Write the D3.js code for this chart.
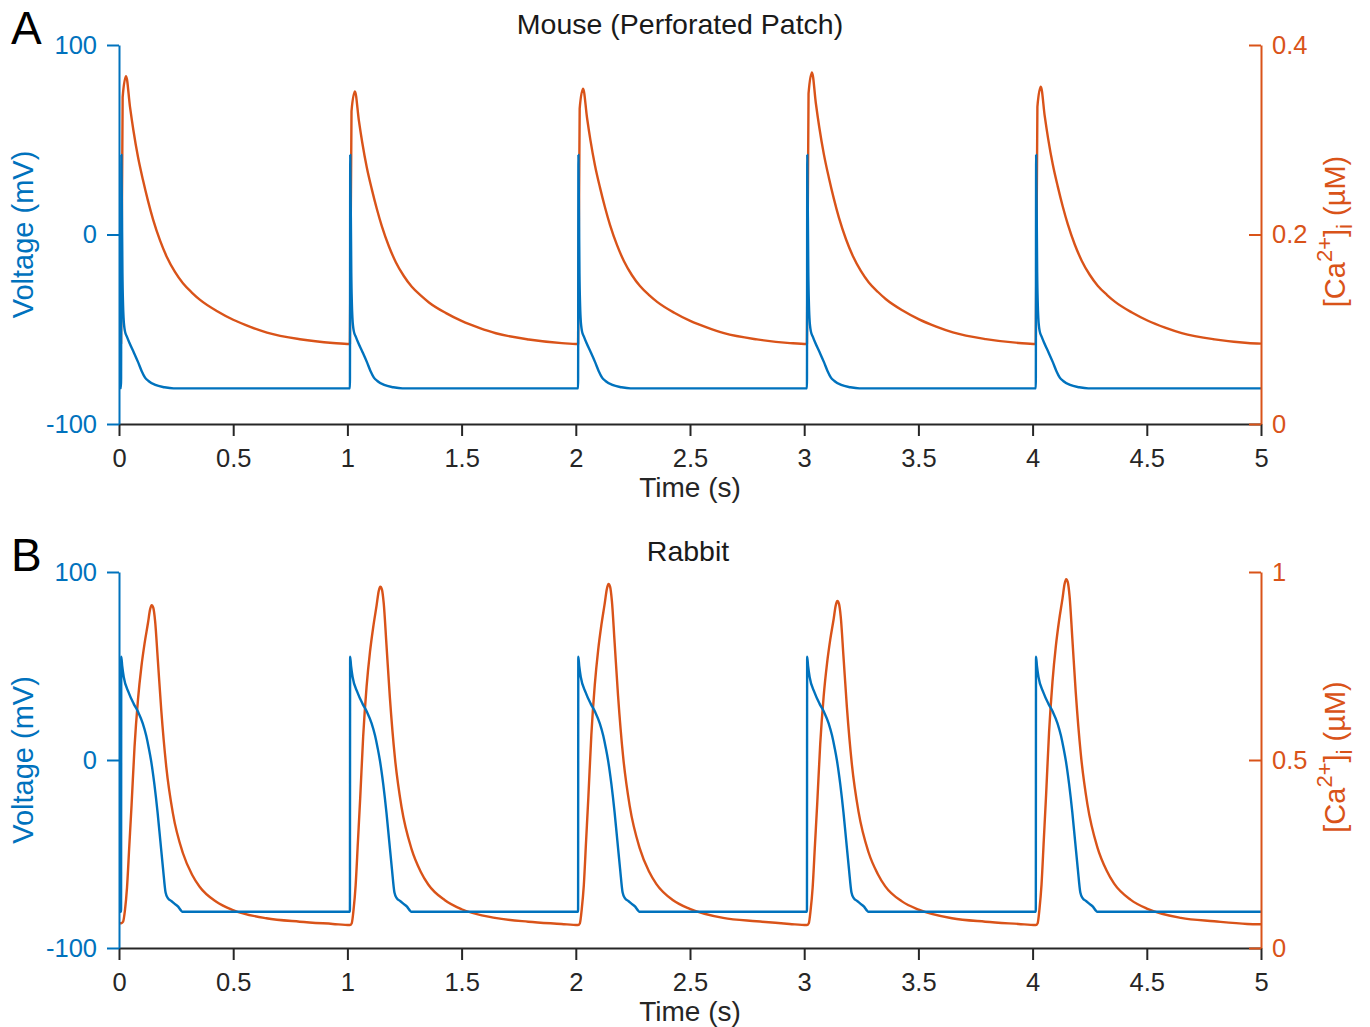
<!DOCTYPE html>
<html>
<head>
<meta charset="utf-8">
<script src="https://cdn.jsdelivr.net/npm/d3@7"></script>
<style>
body { margin: 0; background: #fff; }
svg text { font-family: "Liberation Sans", Arial, Helvetica, sans-serif; }
</style>
</head>
<body>
<div id="chart"></div>
<script>
// ---- data ----
const timeTicks = [0, 0.5, 1, 1.5, 2, 2.5, 3, 3.5, 4, 4.5, 5];
const timeTickLabels = ['0', '0.5', '1', '1.5', '2', '2.5', '3', '3.5', '4', '4.5', '5'];
const voltTicks = [-100, 0, 100];
const voltTickLabels = ['-100', '0', '100'];
const mouseCaTicks = [0, 0.2, 0.4];
const mouseCaTickLabels = ['0', '0.2', '0.4'];
const rabbitCaTicks = [0, 0.5, 1];
const rabbitCaTickLabels = ['0', '0.5', '1'];

// [time (s), voltage (mV)]
const mouseVoltage = [
  [0,-81],[0.009,-81],[0.0105,42],[0.015,-20],[0.020,-44],[0.026,-51],[0.035,-54],[0.045,-57],[0.064,-62],[0.084,-67.5],[0.099,-72],[0.114,-75.5],[0.129,-77.3],[0.159,-79.4],[0.199,-80.6],[0.239,-81.2],
  [1.011,-81.2],[1.0125,42],[1.017,-20],[1.022,-44],[1.028,-51],[1.037,-54],[1.047,-57],[1.066,-62],[1.086,-67.5],[1.101,-72],[1.116,-75.5],[1.131,-77.3],[1.161,-79.4],[1.201,-80.6],[1.241,-81.2],
  [2.010,-81.2],[2.0115,42],[2.016,-20],[2.021,-44],[2.027,-51],[2.036,-54],[2.046,-57],[2.065,-62],[2.085,-67.5],[2.100,-72],[2.115,-75.5],[2.130,-77.3],[2.160,-79.4],[2.200,-80.6],[2.240,-81.2],
  [3.012,-81.2],[3.0135,42],[3.018,-20],[3.023,-44],[3.029,-51],[3.038,-54],[3.048,-57],[3.067,-62],[3.087,-67.5],[3.102,-72],[3.117,-75.5],[3.132,-77.3],[3.162,-79.4],[3.202,-80.6],[3.242,-81.2],
  [4.014,-81.2],[4.0155,42],[4.020,-20],[4.025,-44],[4.031,-51],[4.040,-54],[4.050,-57],[4.069,-62],[4.089,-67.5],[4.104,-72],[4.119,-75.5],[4.134,-77.3],[4.164,-79.4],[4.204,-80.6],[4.244,-81.2],
  [5,-81.2]
];

// [time (s), [Ca2+]i (uM)]
const mouseCalcium = [
  [0,0.085],[0.009,0.085],[0.016,0.345],[0.031,0.367],[0.048,0.335],[0.063,0.310],[0.083,0.282],[0.105,0.2575],[0.127,0.2355],[0.149,0.2160],[0.180,0.1935],[0.210,0.1760],[0.245,0.1605],[0.280,0.1485],[0.320,0.1385],[0.355,0.1310],[0.430,0.1190],[0.500,0.1100],[0.575,0.1025],[0.648,0.0965],[0.792,0.0895],[0.937,0.0855],
  [1.011,0.0844],[1.018,0.3301],[1.033,0.351],[1.050,0.3207],[1.065,0.2971],[1.085,0.2707],[1.107,0.2476],[1.129,0.2269],[1.151,0.2085],[1.182,0.1873],[1.212,0.1708],[1.247,0.1562],[1.282,0.1448],[1.322,0.1354],[1.357,0.1283],[1.432,0.1170],[1.502,0.1085],[1.577,0.1015],[1.650,0.0958],[1.794,0.0892],[1.939,0.0854],
  [2.010,0.0844],[2.017,0.3330],[2.032,0.354],[2.049,0.3235],[2.064,0.2996],[2.084,0.2729],[2.106,0.2495],[2.128,0.2285],[2.150,0.2099],[2.181,0.1885],[2.211,0.1718],[2.246,0.1570],[2.281,0.1456],[2.321,0.1360],[2.356,0.1289],[2.431,0.1174],[2.501,0.1088],[2.576,0.1017],[2.649,0.0959],[2.793,0.0893],[2.938,0.0854],
  [3.012,0.0844],[3.019,0.3486],[3.034,0.371],[3.051,0.3385],[3.066,0.3132],[3.086,0.2848],[3.108,0.2599],[3.130,0.2376],[3.152,0.2178],[3.183,0.1950],[3.213,0.1773],[3.248,0.1616],[3.283,0.1494],[3.323,0.1393],[3.358,0.1317],[3.433,0.1195],[3.503,0.1104],[3.578,0.1028],[3.651,0.0967],[3.795,0.0896],[3.940,0.0855],
  [4.014,0.0844],[4.021,0.3348],[4.036,0.356],[4.053,0.3252],[4.068,0.3012],[4.088,0.2743],[4.110,0.2508],[4.132,0.2296],[4.154,0.2109],[4.185,0.1892],[4.215,0.1724],[4.250,0.1575],[4.285,0.1460],[4.325,0.1364],[4.360,0.1292],[4.435,0.1177],[4.505,0.1090],[4.580,0.1018],[4.653,0.0960],[4.797,0.0893],[4.942,0.0855],
  [5,0.0848]
];

const rabbitVoltage = [
  [0,-80.7],[0.009,-80.7],[0.010,55],[0.014,50],[0.021,44],[0.042,36],[0.064,30],[0.084,25.5],[0.104,19.5],[0.119,13],[0.131,6],[0.140,0],[0.155,-13],[0.169,-28],[0.181,-43],[0.193,-58],[0.204,-70.5],[0.214,-73.5],[0.229,-75],[0.244,-76.5],[0.259,-78],[0.271,-80],[0.277,-80.7],
  [1.011,-80.7],[1.012,55],[1.016,50],[1.023,44],[1.044,36],[1.066,30],[1.086,25.5],[1.106,19.5],[1.121,13],[1.133,6],[1.142,0],[1.157,-13],[1.171,-28],[1.183,-43],[1.195,-58],[1.206,-70.5],[1.216,-73.5],[1.231,-75],[1.246,-76.5],[1.261,-78],[1.273,-80],[1.279,-80.7],
  [2.010,-80.7],[2.011,55],[2.015,50],[2.022,44],[2.043,36],[2.065,30],[2.085,25.5],[2.105,19.5],[2.120,13],[2.132,6],[2.141,0],[2.156,-13],[2.170,-28],[2.182,-43],[2.194,-58],[2.205,-70.5],[2.215,-73.5],[2.230,-75],[2.245,-76.5],[2.260,-78],[2.272,-80],[2.278,-80.7],
  [3.012,-80.7],[3.013,55],[3.017,50],[3.024,44],[3.045,36],[3.067,30],[3.087,25.5],[3.107,19.5],[3.122,13],[3.134,6],[3.143,0],[3.158,-13],[3.172,-28],[3.184,-43],[3.196,-58],[3.207,-70.5],[3.217,-73.5],[3.232,-75],[3.247,-76.5],[3.262,-78],[3.274,-80],[3.280,-80.7],
  [4.014,-80.7],[4.015,55],[4.019,50],[4.026,44],[4.047,36],[4.069,30],[4.089,25.5],[4.109,19.5],[4.124,13],[4.136,6],[4.145,0],[4.160,-13],[4.174,-28],[4.186,-43],[4.198,-58],[4.209,-70.5],[4.219,-73.5],[4.234,-75],[4.249,-76.5],[4.264,-78],[4.276,-80],[4.282,-80.7],
  [5,-80.7]
];

const rabbitCalcium = [
  [0,0.066],[0.010,0.066],[0.018,0.070],[0.026,0.100],[0.035,0.160],[0.045,0.270],[0.055,0.380],[0.068,0.535],[0.083,0.660],[0.098,0.748],[0.112,0.810],[0.127,0.865],[0.136,0.900],[0.143,0.912],[0.150,0.905],[0.158,0.870],[0.170,0.766],[0.185,0.633],[0.207,0.482],[0.236,0.358],[0.280,0.252],[0.320,0.195],[0.353,0.163],[0.426,0.123],[0.499,0.101],[0.645,0.079],[0.791,0.070],[0.936,0.064],
  [1.011,0.061],[1.019,0.066],[1.027,0.102],[1.036,0.166],[1.046,0.282],[1.056,0.398],[1.069,0.562],[1.084,0.695],[1.099,0.788],[1.113,0.853],[1.128,0.912],[1.137,0.949],[1.144,0.961],[1.151,0.954],[1.159,0.917],[1.171,0.807],[1.186,0.666],[1.208,0.506],[1.237,0.375],[1.281,0.263],[1.321,0.203],[1.354,0.169],[1.427,0.127],[1.500,0.103],[1.646,0.080],[1.792,0.070],[1.937,0.064],
  [2.010,0.061],[2.018,0.066],[2.026,0.103],[2.035,0.166],[2.045,0.284],[2.055,0.401],[2.068,0.566],[2.083,0.699],[2.098,0.793],[2.112,0.859],[2.127,0.918],[2.136,0.955],[2.143,0.968],[2.150,0.961],[2.158,0.923],[2.170,0.812],[2.185,0.671],[2.207,0.510],[2.236,0.378],[2.280,0.265],[2.320,0.204],[2.353,0.170],[2.426,0.127],[2.499,0.104],[2.645,0.080],[2.791,0.071],[2.936,0.064],
  [3.012,0.061],[3.020,0.066],[3.028,0.100],[3.037,0.161],[3.047,0.273],[3.057,0.384],[3.070,0.541],[3.085,0.668],[3.100,0.757],[3.114,0.820],[3.129,0.875],[3.138,0.911],[3.145,0.923],[3.152,0.916],[3.160,0.881],[3.172,0.775],[3.187,0.640],[3.209,0.487],[3.238,0.362],[3.282,0.254],[3.322,0.197],[3.355,0.164],[3.428,0.124],[3.501,0.102],[3.647,0.079],[3.793,0.070],[3.938,0.064],
  [4.014,0.061],[4.022,0.066],[4.030,0.103],[4.039,0.168],[4.049,0.287],[4.059,0.406],[4.072,0.573],[4.087,0.708],[4.102,0.804],[4.116,0.871],[4.131,0.930],[4.140,0.968],[4.147,0.981],[4.154,0.973],[4.162,0.935],[4.174,0.823],[4.189,0.679],[4.211,0.516],[4.240,0.382],[4.284,0.267],[4.324,0.206],[4.357,0.171],[4.430,0.128],[4.503,0.104],[4.649,0.080],[4.795,0.071],[4.940,0.064],
  [5,0.063]
];

// ---- drawing ----
const blue = '#0072BD', orange = '#D95319', dark = '#262626';
const fontFam = '"Liberation Sans", Arial, Helvetica, sans-serif';

const svg = d3.select('#chart').append('svg')
  .attr('width', 1370)
  .attr('height', 1027);

const x = d3.scaleLinear().domain([0, 5]).range([119, 1261]);

function styleAxis(g, color) {
  g.attr('font-size', 25.5).attr('font-family', fontFam);
  g.select('.domain').attr('stroke', color).attr('stroke-width', 2);
  g.selectAll('.tick line').attr('stroke', color).attr('stroke-width', 2);
  g.selectAll('.tick text').attr('fill', color);
}

function drawPanel(p) {
  const yV = d3.scaleLinear().domain([-100, 100]).range([p.bottom, p.top]);
  const yCa = d3.scaleLinear().domain(p.caDomain).range([p.bottom, p.top]);

  // traces
  svg.append('path')
    .datum(p.ca)
    .attr('fill', 'none')
    .attr('stroke', orange)
    .attr('stroke-width', 2.4)
    .attr('stroke-linejoin', 'round')
    .attr('d', d3.line()
      .x(function(d) { return x(d[0]); })
      .y(function(d) { return yCa(d[1]); })
      .curve(d3.curveMonotoneX));

  svg.append('path')
    .datum(p.volt)
    .attr('fill', 'none')
    .attr('stroke', blue)
    .attr('stroke-width', 2.4)
    .attr('stroke-linejoin', 'round')
    .attr('d', d3.line()
      .x(function(d) { return x(d[0]); })
      .y(function(d) { return yV(d[1]); })
      .curve(d3.curveMonotoneX));

  // bottom axis
  const gx = svg.append('g')
    .attr('transform', 'translate(0,' + p.bottom + ')')
    .call(d3.axisBottom(x)
      .tickValues(timeTicks)
      .tickFormat(function(d, i) { return timeTickLabels[i]; })
      .tickSize(12).tickSizeOuter(0).tickPadding(13));
  styleAxis(gx, dark);

  // left axis
  const gl = svg.append('g')
    .attr('transform', 'translate(119,0)')
    .call(d3.axisLeft(yV)
      .tickValues(voltTicks)
      .tickFormat(function(d, i) { return voltTickLabels[i]; })
      .tickSize(12).tickSizeOuter(0).tickPadding(10));
  styleAxis(gl, blue);

  // right axis (ticks point inward)
  const gr = svg.append('g')
    .attr('transform', 'translate(1261,0)')
    .call(d3.axisRight(yCa)
      .tickValues(p.caTicks)
      .tickFormat(function(d, i) { return p.caTickLabels[i]; })
      .tickSize(-12).tickSizeOuter(0).tickPadding(11));
  styleAxis(gr, orange);

  // title + panel letter
  svg.append('text')
    .attr('x', p.titleX).attr('y', p.top - 11)
    .attr('text-anchor', 'middle')
    .attr('font-size', 28.5)
    .attr('fill', '#1a1a1a')
    .text(p.title);

  svg.append('text')
    .attr('x', 11).attr('y', p.top - 1)
    .attr('font-size', 46)
    .attr('fill', '#000')
    .text(p.letter);

  // x label
  svg.append('text')
    .attr('x', 690).attr('y', p.bottom + 73)
    .attr('text-anchor', 'middle')
    .attr('font-size', 28)
    .attr('fill', dark)
    .text('Time (s)');

  // left y label
  const mid = (p.top + p.bottom) / 2;
  svg.append('text')
    .attr('transform', 'translate(33,' + mid + ') rotate(-90)')
    .attr('text-anchor', 'middle')
    .attr('font-size', 29)
    .attr('fill', blue)
    .text('Voltage (mV)');

  // right y label with super/subscript
  const rl = svg.append('text')
    .attr('transform', 'translate(1345,' + (mid - 3) + ') rotate(-90)')
    .attr('text-anchor', 'middle')
    .attr('font-size', 29)
    .attr('fill', orange);
  rl.append('tspan').text('[Ca');
  rl.append('tspan').attr('dy', -13).attr('font-size', 22).text('2+');
  rl.append('tspan').attr('dy', 13).text(']');
  rl.append('tspan').attr('dy', 7).attr('font-size', 22).text('i');
  rl.append('tspan').attr('dy', -7).text(' (\u00B5M)');
}

drawPanel({
  top: 45, bottom: 424,
  volt: mouseVoltage, ca: mouseCalcium,
  caDomain: [0, 0.4], caTicks: mouseCaTicks, caTickLabels: mouseCaTickLabels,
  title: 'Mouse (Perforated Patch)', titleX: 680, letter: 'A'
});

drawPanel({
  top: 572, bottom: 948,
  volt: rabbitVoltage, ca: rabbitCalcium,
  caDomain: [0, 1], caTicks: rabbitCaTicks, caTickLabels: rabbitCaTickLabels,
  title: 'Rabbit', titleX: 688, letter: 'B'
});
</script>
</body>
</html>
